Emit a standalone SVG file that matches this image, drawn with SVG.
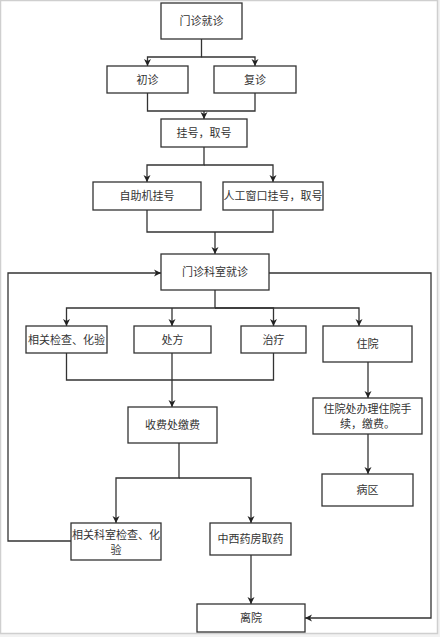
<svg xmlns="http://www.w3.org/2000/svg" width="440" height="637" viewBox="0 0 440 637">
<defs>
<marker id="ah" markerWidth="8" markerHeight="8" refX="7" refY="4" orient="auto" markerUnits="userSpaceOnUse">
<path d="M0,0.5 L7,4 L0,7.5 L2,4 Z" fill="#222"/>
</marker>
</defs>
<style>
.n rect{fill:#fff;stroke:#333;stroke-width:1.3}
.n text{font-family:"Noto Sans CJK SC","Liberation Sans",sans-serif;font-size:11px;fill:#333;text-anchor:middle}
#edges path{fill:none;stroke:#333;stroke-width:1.3}
#edges path.a{marker-end:url(#ah)}
</style>
<rect x="0" y="0" width="440" height="637" fill="#f2f2f2"/>
<rect x="0.5" y="0.5" width="437" height="633" fill="#fff" stroke="#cfcfcf" stroke-width="1.5"/>
<g id="edges">
<path class="a" d="M201.5 39 V57 H147.5 V66"/>
<path class="a" d="M201.5 57 H255 V66"/>
<path d="M147.5 93 V111 H255 V93"/>
<path class="a" d="M204 111 V119"/>
<path class="a" d="M204 147 V165 H147 V182"/>
<path class="a" d="M204 165 H273 V182"/>
<path d="M147 210 V232 H273 V210"/>
<path class="a" d="M215 232 V254"/>
<path class="a" d="M215 290 V308 H66.5 V326"/>
<path class="a" d="M215 308 H359 V326"/>
<path class="a" d="M172 308 V326"/>
<path class="a" d="M215 308 H273.5 V326"/>
<path d="M66.5 353 V380 H273.5 V353"/>
<path class="a" d="M172 353 V407"/>
<path class="a" d="M368 362 V398"/>
<path class="a" d="M368 434 V474"/>
<path class="a" d="M179 443 V478 H116 V523"/>
<path class="a" d="M179 478 H251 V523"/>
<path class="a" d="M251 555 V604"/>
<path class="a" d="M71 541 H8 V273 H161"/>
<path class="a" d="M269 273 H431 V618 H305"/>
</g>
<g id="n1" class="n"><rect x="161" y="3" width="81" height="36"/><text x="201.5" y="25">门诊就诊</text></g>
<g id="n2" class="n"><rect x="107" y="66" width="81" height="27"/><text x="147.5" y="83.5">初诊</text></g>
<g id="n3" class="n"><rect x="214" y="66" width="82" height="27"/><text x="255" y="83.5">复诊</text></g>
<g id="n4" class="n"><rect x="161" y="119" width="86" height="28"/><text x="204" y="137">挂号，取号</text></g>
<g id="n5" class="n"><rect x="93" y="182" width="108" height="28"/><text x="147" y="200">自助机挂号</text></g>
<g id="n6" class="n"><rect x="223" y="182" width="100" height="28"/><text x="273" y="200">人工窗口挂号，取号</text></g>
<g id="n7" class="n"><rect x="161" y="254" width="108" height="36"/><text x="215" y="276">门诊科室就诊</text></g>
<g id="n8" class="n"><rect x="26" y="326" width="81" height="27"/><text x="66.5" y="343.5">相关检查、化验</text></g>
<g id="n9" class="n"><rect x="134" y="326" width="77" height="27"/><text x="172.5" y="343.5">处方</text></g>
<g id="n10" class="n"><rect x="241" y="326" width="65" height="27"/><text x="273.5" y="343.5">治疗</text></g>
<g id="n11" class="n"><rect x="323" y="326" width="89" height="36"/><text x="367.5" y="348">住院</text></g>
<g id="n12" class="n"><rect x="128" y="407" width="89" height="36"/><text x="172.5" y="429">收费处缴费</text></g>
<g id="n13" class="n"><rect x="313" y="398" width="109" height="36"/><text x="367.5" y="413">住院处办理住院手</text><text x="367.5" y="428">续，缴费。</text></g>
<g id="n14" class="n"><rect x="322" y="474" width="91" height="32"/><text x="367.5" y="494">病区</text></g>
<g id="n15" class="n"><rect x="71" y="523" width="90" height="37"/><text x="116" y="539">相关科室检查、化</text><text x="116" y="554">验</text></g>
<g id="n16" class="n"><rect x="210" y="523" width="81" height="32"/><text x="250.5" y="543">中西药房取药</text></g>
<g id="n17" class="n"><rect x="197" y="604" width="108" height="28"/><text x="251" y="622">离院</text></g>
</svg>
